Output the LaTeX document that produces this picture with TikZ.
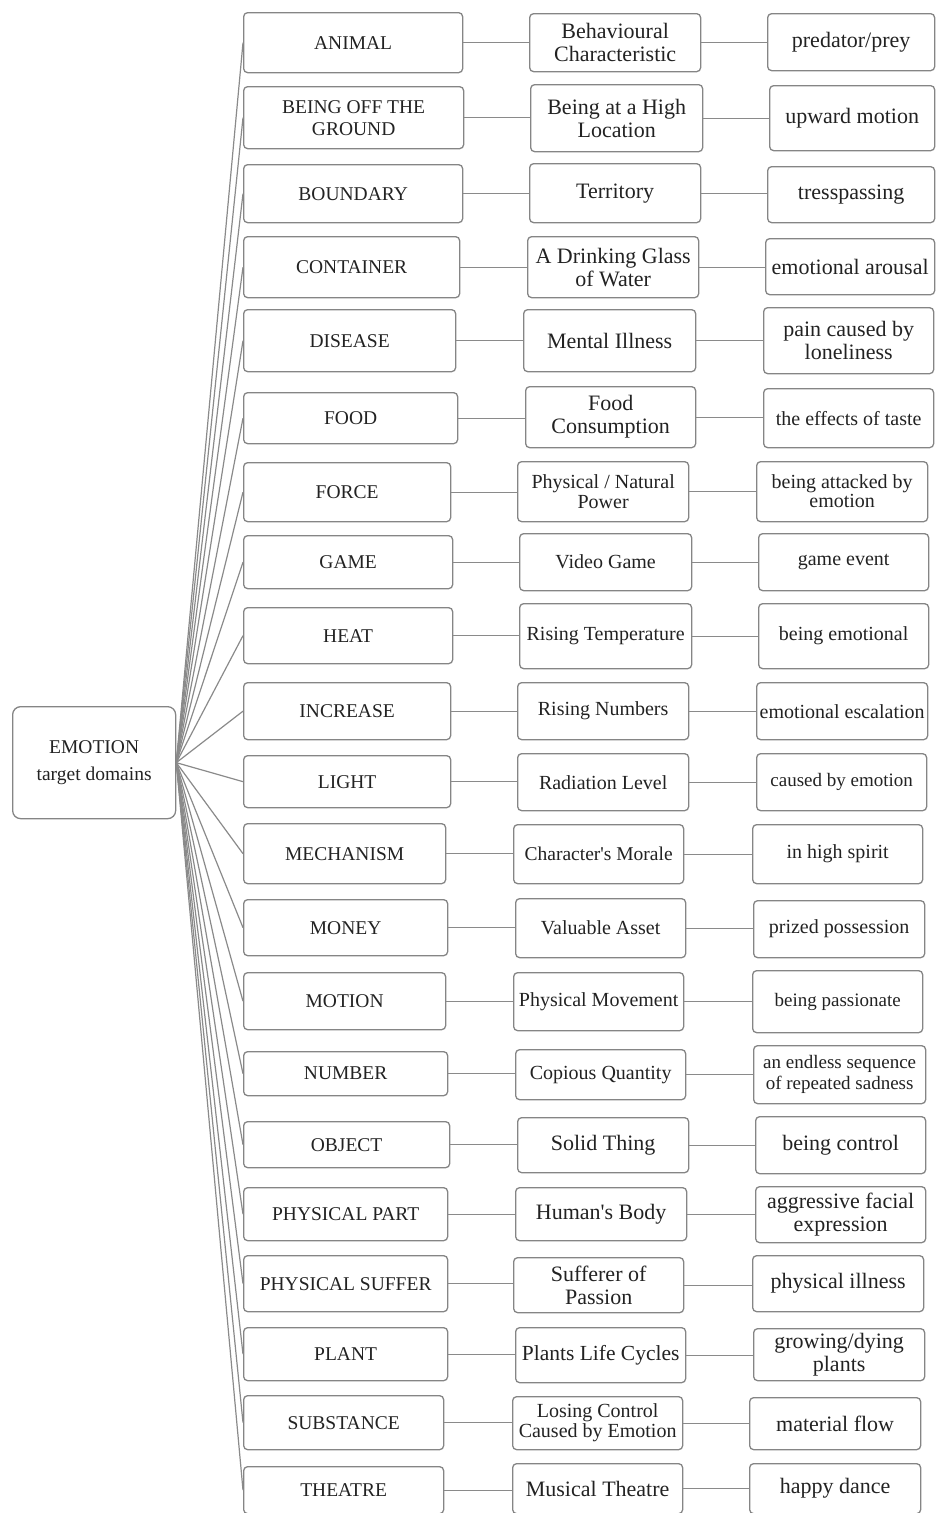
\documentclass[tikz,border=0pt]{standalone}
\usepackage{fontspec}
\setmainfont{Liberation Serif}
\usepackage{xcolor}
\usepackage{tikz}
\usetikzlibrary{positioning,calc}

\definecolor{boxgray}{HTML}{858585}
\definecolor{linegray}{HTML}{8A8A8A}
\definecolor{textgray}{HTML}{222222}

\tikzset{
  domainbox/.style={draw=boxgray, rounded corners=4pt, line width=1.3pt, anchor=north west,
    align=center, inner sep=1pt, text=textgray, font=\fontsize{19.5}{22}\selectfont},
  conceptbox/.style={domainbox, font=\fontsize{20}{21}\selectfont},
  fbig/.style={font=\fontsize{22}{23}\selectfont},
  fsmall/.style={font=\fontsize{19}{20}\selectfont},
  link/.style={draw=linegray, line width=1.2pt},
}

\begin{document}
\begin{tikzpicture}[x=1pt, y=-1pt]
    \useasboundingbox (0,0) rectangle (935,1513);

    % root
    \node[domainbox, minimum width=163, minimum height=112, rounded corners=8pt,
          font=\fontsize{19.5}{27}\selectfont] (root) at (12,706) {EMOTION\\target domains};

    % target domains
    \node[domainbox, minimum width=219, minimum height=60] (animal) at (243,12) {ANIMAL};
    \node[domainbox, minimum width=220, minimum height=62] (ground) at (243,86) {BEING OFF THE\\GROUND};
    \node[domainbox, minimum width=219, minimum height=58] (boundary) at (243,164) {BOUNDARY};
    \node[domainbox, minimum width=216, minimum height=61] (container) at (243,236) {CONTAINER};
    \node[domainbox, minimum width=212, minimum height=62] (disease) at (243,309) {DISEASE};
    \node[domainbox, minimum width=214, minimum height=51] (food) at (243,392) {FOOD};
    \node[domainbox, minimum width=207, minimum height=59] (force) at (243,462) {FORCE};
    \node[domainbox, minimum width=209, minimum height=53] (game) at (243,535) {GAME};
    \node[domainbox, minimum width=209, minimum height=56] (heat) at (243,607) {HEAT};
    \node[domainbox, minimum width=207, minimum height=57] (increase) at (243,682) {INCREASE};
    \node[domainbox, minimum width=207, minimum height=52] (light) at (243,755) {LIGHT};
    \node[domainbox, minimum width=202, minimum height=60] (mechanism) at (243,823) {MECHANISM};
    \node[domainbox, minimum width=204, minimum height=56] (money) at (243,899) {MONEY};
    \node[domainbox, minimum width=202, minimum height=57] (motion) at (243,972) {MOTION};
    \node[domainbox, minimum width=204, minimum height=44] (number) at (243,1051) {NUMBER};
    \node[domainbox, minimum width=206, minimum height=46] (object) at (243,1121) {OBJECT};
    \node[domainbox, minimum width=204, minimum height=53] (part) at (243,1187) {PHYSICAL PART};
    \node[domainbox, minimum width=204, minimum height=56] (suffer) at (243,1255) {PHYSICAL SUFFER};
    \node[domainbox, minimum width=204, minimum height=53] (plant) at (243,1327) {PLANT};
    \node[domainbox, minimum width=200, minimum height=54] (substance) at (243,1395) {SUBSTANCE};
    \node[domainbox, minimum width=200, minimum height=47] (theatre) at (243,1466) {THEATRE};

    % source concepts
    \node[conceptbox, fbig, minimum width=171, minimum height=58] (animal-s) at (529,13) {Behavioural\\Characteristic};
    \node[conceptbox, fbig, minimum width=172, minimum height=67] (ground-s) at (530,84) {Being at a High\\Location};
    \node[conceptbox, fbig, minimum width=171, minimum height=59] (boundary-s) at (529,163) {Territory};
    \node[conceptbox, fbig, minimum width=171, minimum height=61] (container-s) at (527,236) {A Drinking Glass\\of Water};
    \node[conceptbox, fbig, minimum width=172, minimum height=62] (disease-s) at (523,309) {Mental Illness};
    \node[conceptbox, fbig, minimum width=170, minimum height=61] (food-s) at (525,386) {Food\\Consumption};
    \node[conceptbox, font=\fontsize{20}{20}\selectfont, minimum width=171, minimum height=60] (force-s) at (517,461) {Physical / Natural\\Power};
    \node[conceptbox, minimum width=172, minimum height=57] (game-s) at (519,533) {Video Game};
    \node[conceptbox, minimum width=172, minimum height=65] (heat-s) at (519,603) {Rising Temperature};
    \node[conceptbox, minimum width=171, minimum height=57] (increase-s) at (517,682) {Rising Numbers};
    \node[conceptbox, minimum width=171, minimum height=57] (light-s) at (517,753) {Radiation Level};
    \node[conceptbox, font=\fontsize{19.5}{21}\selectfont, minimum width=170, minimum height=59] (mechanism-s) at (513,824) {Character\textquotesingle s Morale};
    \node[conceptbox, minimum width=170, minimum height=59] (money-s) at (515,898) {Valuable Asset};
    \node[conceptbox, minimum width=170, minimum height=58] (motion-s) at (513,972) {Physical Movement};
    \node[conceptbox, minimum width=170, minimum height=50] (number-s) at (515,1049) {Copious Quantity};
    \node[conceptbox, fbig, minimum width=171, minimum height=55] (object-s) at (517,1117) {Solid Thing};
    \node[conceptbox, fbig, minimum width=171, minimum height=53] (part-s) at (515,1187) {Human\textquotesingle s Body};
    \node[conceptbox, fbig, minimum width=170, minimum height=55] (suffer-s) at (513,1257) {Sufferer of\\Passion};
    \node[conceptbox, font=\fontsize{21.5}{23}\selectfont, minimum width=170, minimum height=55] (plant-s) at (515,1327) {Plants Life Cycles};
    \node[conceptbox, font=\fontsize{20}{20}\selectfont, minimum width=170, minimum height=53] (substance-s) at (512,1396) {Losing Control\\Caused by Emotion};
    \node[conceptbox, fbig, minimum width=170, minimum height=50] (theatre-s) at (512,1463) {Musical Theatre};

    % metaphorical expressions
    \node[conceptbox, fbig, minimum width=167, minimum height=57] (animal-x) at (767,13) {predator/prey};
    \node[conceptbox, fbig, minimum width=165, minimum height=65] (ground-x) at (769,85) {upward motion};
    \node[conceptbox, fbig, minimum width=167, minimum height=56] (boundary-x) at (767,166) {tresspassing};
    \node[conceptbox, fbig, minimum width=169, minimum height=56] (container-x) at (765,238) {emotional arousal};
    \node[conceptbox, font=\fontsize{22}{23}\selectfont, minimum width=170, minimum height=66] (disease-x) at (763,307) {pain caused by\\loneliness};
    \node[conceptbox, minimum width=170, minimum height=59] (food-x) at (763,388) {the effects of taste};
    \node[conceptbox, font=\fontsize{20}{19}\selectfont, minimum width=171, minimum height=60] (force-x) at (756,461) {being attacked by\\emotion};
    \node[conceptbox, minimum width=170, minimum height=57] (game-x) at (758,533) {game event};
    \node[conceptbox, minimum width=170, minimum height=65] (heat-x) at (758,603) {being emotional};
    \node[conceptbox, minimum width=171, minimum height=57] (increase-x) at (756,682) {emotional escalation};
    \node[conceptbox, fsmall, minimum width=170, minimum height=57] (light-x) at (756,753) {caused by emotion};
    \node[conceptbox, minimum width=170, minimum height=59] (mechanism-x) at (752,824) {in high spirit};
    \node[conceptbox, minimum width=171, minimum height=57] (money-x) at (753,900) {prized possession};
    \node[conceptbox, fsmall, minimum width=170, minimum height=62] (motion-x) at (752,970) {being passionate};
    \node[conceptbox, font=\fontsize{19}{21}\selectfont, minimum width=172, minimum height=58] (number-x) at (753,1045) {an endless sequence\\of repeated sadness};
    \node[conceptbox, fbig, minimum width=170, minimum height=57] (object-x) at (755,1116) {being control};
    \node[conceptbox, fbig, minimum width=170, minimum height=56] (part-x) at (755,1186) {aggressive facial\\expression};
    \node[conceptbox, fbig, minimum width=171, minimum height=56] (suffer-x) at (752,1255) {physical illness};
    \node[conceptbox, fbig, minimum width=171, minimum height=52] (plant-x) at (753,1328) {growing/dying\\plants};
    \node[conceptbox, fbig, minimum width=171, minimum height=52] (substance-x) at (749,1397) {material flow};
    \node[conceptbox, fbig, minimum width=171, minimum height=50] (theatre-x) at (749,1463) {happy dance};

    % connectors
    \foreach \n in {animal,ground,boundary,container,disease,food,force,game,heat,increase,light,
                    mechanism,money,motion,number,object,part,suffer,plant,substance,theatre} {
        \draw[link] (root.east) -- (\n.west);
        \draw[link] (\n.east) -- (\n.east -| \n-s.west);
        \draw[link] (\n-s.east) -- (\n-s.east -| \n-x.west);
    }
\end{tikzpicture}
\end{document}
